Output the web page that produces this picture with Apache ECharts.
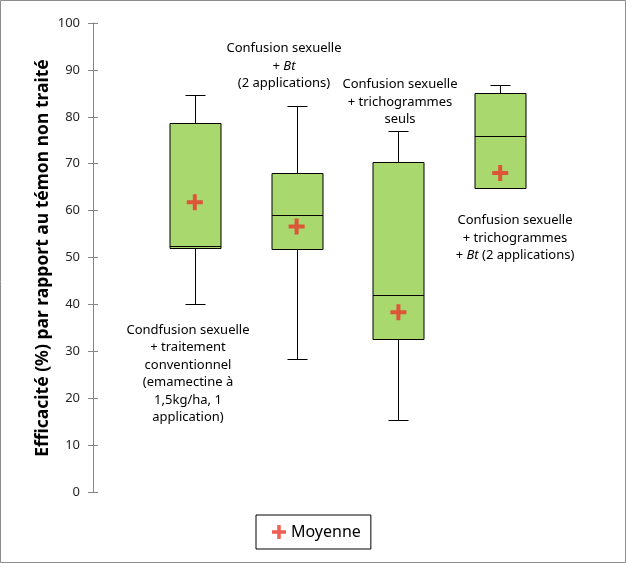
<!DOCTYPE html>
<html>
<head>
<meta charset="utf-8">
<script src="https://cdn.jsdelivr.net/npm/echarts@6/dist/echarts.min.js"></script>
<style>
html,body{margin:0;padding:0;background:#fff;}
#chart{width:626px;height:563px;}
</style>
</head>
<body>
<div id="chart"></div>
<script>
// ---- data ----
var categories = ['Condfusion sexuelle + traitement conventionnel', 'Confusion sexuelle + Bt', 'Confusion sexuelle + trichogrammes seuls', 'Confusion sexuelle + trichogrammes + Bt'];
var positions = [1, 2, 3, 4];
var minValues = [40.0, 28.3, 15.3, 64.8];
var q1Values = [52.0, 51.8, 32.6, 64.8];
var medianValues = [52.5, 59.0, 41.9, 75.8];
var q3Values = [78.7, 68.0, 70.3, 85.0];
var maxValues = [84.7, 82.2, 76.9, 86.8];
var meanValues = [61.8, 56.6, 38.3, 68.0];
var yTicks = [0, 10, 20, 30, 40, 50, 60, 70, 80, 90, 100];
var legendName = 'Moyenne';
var yTitle = 'Efficacité (%) par rapport au témon non traité';

var boxData = positions.map(function (p, i) {
  return [p, minValues[i], q1Values[i], medianValues[i], q3Values[i], maxValues[i]];
});
var meanData = positions.map(function (p, i) { return [p, meanValues[i]]; });

var plusPath = 'path://M3,0H5V3H8V5H5V8H3V5H0V3H3Z';
var FONT = '"Noto Sans", sans-serif';

function renderBox(params, api) {
  var x = api.value(0);
  var pMin = api.coord([x, api.value(1)]);
  var pQ1 = api.coord([x, api.value(2)]);
  var pMed = api.coord([x, api.value(3)]);
  var pQ3 = api.coord([x, api.value(4)]);
  var pMax = api.coord([x, api.value(5)]);
  var cx = Math.round(pMed[0]) + 0.5;
  var bw = 51, cw = 20;
  var ls = { stroke: '#000', lineWidth: 1 };
  function r(v) { return Math.round(v) + 0.5; }
  return {
    type: 'group',
    children: [
      { type: 'line', shape: { x1: cx, y1: r(pMax[1]), x2: cx, y2: r(pQ3[1]) }, style: ls },
      { type: 'line', shape: { x1: cx - cw / 2, y1: r(pMax[1]), x2: cx + cw / 2, y2: r(pMax[1]) }, style: ls },
      { type: 'line', shape: { x1: cx, y1: r(pQ1[1]), x2: cx, y2: r(pMin[1]) }, style: ls },
      { type: 'line', shape: { x1: cx - cw / 2, y1: r(pMin[1]), x2: cx + cw / 2, y2: r(pMin[1]) }, style: ls },
      { type: 'rect', shape: { x: cx - bw / 2, y: r(pQ3[1]), width: bw, height: r(pQ1[1]) - r(pQ3[1]) },
        style: { fill: '#a9d86e', stroke: '#000', lineWidth: 1 } },
      { type: 'line', shape: { x1: cx - bw / 2, y1: r(pMed[1]), x2: cx + bw / 2, y2: r(pMed[1]) }, style: ls }
    ]
  };
}

var chart = echarts.init(document.getElementById('chart'), null, { renderer: 'canvas' });
var textStyleBase = { font: '13px ' + FONT, fill: '#000', align: 'center', verticalAlign: 'middle', lineHeight: 17.5 };
function ann(x, y, text) {
  return {
    type: 'text', x: x, y: y, z: 10,
    style: Object.assign({}, textStyleBase, {
      text: text,
      rich: { i: { fontStyle: 'italic', fontFamily: FONT, fontSize: 13, fill: '#000', lineHeight: 17.5 } }
    })
  };
}

chart.setOption({
  animation: false,
  backgroundColor: '#fff',
  grid: { left: 93, right: 24, top: 23, bottom: 71 },
  xAxis: { type: 'value', min: 0, max: 5, show: false },
  yAxis: [{
    type: 'value', min: 0, max: 100, interval: 10, position: 'left',
    axisLine: { show: true, lineStyle: { color: '#868686', width: 1 } },
    axisTick: { show: true, length: 5, lineStyle: { color: '#868686' } },
    axisLabel: { color: '#262626', fontSize: 13, fontFamily: FONT, margin: 13,
      formatter: function (v) { return yTicks.indexOf(v) >= 0 ? String(v) : ''; } },
    splitLine: { show: false }
  }, {
    type: 'value', min: 0, max: 100, interval: 10, position: 'left', offset: 0,
    axisLine: { show: false },
    axisTick: { show: true, inside: true, length: 5, lineStyle: { color: '#868686' } },
    axisLabel: { show: false },
    splitLine: { show: false }
  }],
  legend: {
    left: 256, top: 515,
    data: [{ name: legendName, icon: plusPath }],
    itemWidth: 14, itemHeight: 14, itemGap: 4,
    textStyle: { fontSize: 16, fontFamily: FONT, color: '#000' },
    borderColor: '#000', borderWidth: 1, borderRadius: 0,
    padding: [9, 10, 9, 16]
  },
  series: [{
    type: 'custom',
    name: 'box',
    renderItem: renderBox,
    data: boxData,
    encode: { x: 0, y: [1, 2, 3, 4, 5] },
    z: 2
  }, {
    type: 'scatter',
    name: legendName,
    data: meanData,
    symbol: plusPath,
    symbolSize: 16,
    itemStyle: { color: '#e9362b' },
    z: 5
  }],
  graphic: [
    { type: 'rect', shape: { x: 0.5, y: 0.5, width: 625, height: 562 }, style: { fill: 'none', stroke: '#8c8c8c', lineWidth: 1 }, z: 20 },
    { type: 'text', x: 43, y: 258, rotation: Math.PI / 2,
      style: { text: yTitle, font: 'bold 17.5px ' + FONT, fill: '#000', align: 'center', verticalAlign: 'middle' } },
    ann(188, 374, 'Condfusion sexuelle\n+ traitement\nconventionnel\n(emamectine à\n1,5kg/ha, 1\napplication)'),
    ann(284, 66, 'Confusion sexuelle\n+ {i|Bt}\n(2 applications)'),
    ann(400, 102, 'Confusion sexuelle\n+ trichogrammes\nseuls'),
    ann(515, 238, 'Confusion sexuelle\n+ trichogrammes\n+ {i|Bt} (2 applications)')
  ]
});
</script>
</body>
</html>
